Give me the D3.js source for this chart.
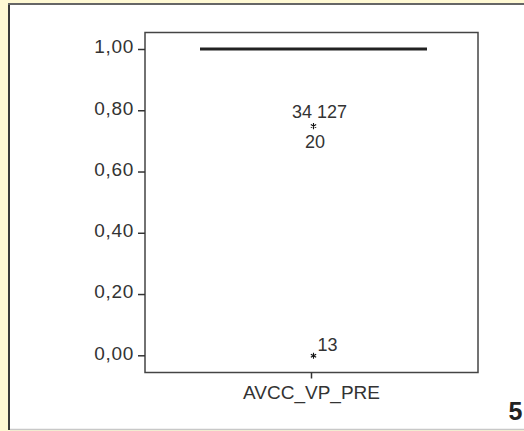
<!DOCTYPE html>
<html><head><meta charset="utf-8">
<script src="https://cdn.jsdelivr.net/npm/d3@7"></script>
<style>
html,body{margin:0;padding:0;background:#fff9d4;}
svg{display:block;}
text{font-family:"Liberation Sans","Arial",sans-serif;fill:#333;}
</style></head>
<body>
<svg id="c" width="524" height="431"></svg>
<script>
// Data
const categories = ["AVCC_VP_PRE"];
const boxStats = [{min:1.0, q1:1.0, median:1.0, q3:1.0, max:1.0}];
const outlierValues = [0.75, 0.0];
const outlierLabels = [["34 127", "20"], ["13"]];
const yTicks = [0, 0.2, 0.4, 0.6, 0.8, 1.0];
const figureNumber = "5";

const svg = d3.select("#c");
// panel
svg.append("rect").attr("x",8).attr("y",4).attr("width",530).attr("height",425).attr("fill","#fff");
svg.append("line").attr("x1",9).attr("x2",9).attr("y1",3).attr("y2",430).attr("stroke","#3a3a3a").attr("stroke-width",2);
svg.append("line").attr("x1",8).attr("x2",524).attr("y1",4).attr("y2",4).attr("stroke","#666").attr("stroke-width",2);
svg.append("line").attr("x1",10).attr("x2",524).attr("y1",429.5).attr("y2",429.5).attr("stroke","#c8c8c8").attr("stroke-width",1.5);

const L=145, R=478, T=32.5, B=372.5;
const y = d3.scaleLinear().domain([0,1]).range([355.3,49]);
const x = d3.scaleBand().domain(categories).range([L,R]).paddingInner(0).paddingOuter(0);

// frame
svg.append("rect").attr("x",L).attr("y",T).attr("width",R-L).attr("height",B-T)
  .attr("fill","none").attr("stroke","#444").attr("stroke-width",1.5);

// y axis
const ya = svg.append("g").attr("transform",`translate(${L},0)`)
  .call(d3.axisLeft(y).tickValues(yTicks).tickSize(7).tickPadding(4)
    .tickFormat(d=>d3.format(".2f")(d).replace(".",",")));
ya.select(".domain").remove();
ya.selectAll(".tick line").attr("stroke","#333").attr("stroke-width",1.5);
ya.selectAll(".tick text").attr("font-size",19).attr("dy","0.2em")
  .style("letter-spacing","0.7px").style("fill","#333");

// x axis
const xa = svg.append("g").attr("transform",`translate(0,${B})`)
  .call(d3.axisBottom(x).tickSize(6).tickPadding(7));
xa.select(".domain").remove();
xa.selectAll(".tick line").attr("stroke","#333").attr("stroke-width",1.5);
xa.selectAll(".tick text").attr("font-size",19).style("fill","#333");

const cx = d => x(d)+x.bandwidth()/2 + 2;
const bw = 227;
// box (collapsed at 1.0)
categories.forEach((c,i)=>{
  const s = boxStats[i];
  const g = svg.append("g");
  g.append("rect").attr("x",cx(c)-bw/2).attr("width",bw)
    .attr("y",y(s.q3)).attr("height",Math.max(0,y(s.q1)-y(s.q3)))
    .attr("fill","none").attr("stroke","#222").attr("stroke-width",1);
  g.append("line").attr("x1",cx(c)-bw/2).attr("x2",cx(c)+bw/2)
    .attr("y1",y(s.median)).attr("y2",y(s.median)).attr("stroke","#222").attr("stroke-width",3);
});

// outliers as asterisk symbols
const c0 = categories[0];
const star = d3.symbol().type(d3.symbolAsterisk).size(26);
svg.selectAll("path.outlier").data(outlierValues).join("path")
  .attr("class","outlier")
  .attr("transform",d=>`translate(${cx(c0)},${y(d)+0.5})`)
  .attr("d",star).attr("fill","none").attr("stroke","#111").attr("stroke-width",1.1);

// labels
svg.append("text").attr("x",319.5).attr("y",y(outlierValues[0])-8).attr("text-anchor","middle")
  .attr("font-size",18).text(outlierLabels[0][0]);
svg.append("text").attr("x",315).attr("y",y(outlierValues[0])+22).attr("text-anchor","middle")
  .attr("font-size",18).text(outlierLabels[0][1]);
svg.append("text").attr("x",317.5).attr("y",y(outlierValues[1])-4).attr("text-anchor","start")
  .attr("font-size",18).text(outlierLabels[1][0]);

svg.append("text").attr("x",508.5).attr("y",420).attr("font-size",25).style("font-weight","bold")
  .style("fill","#222").text(figureNumber);
</script>
</body></html>
